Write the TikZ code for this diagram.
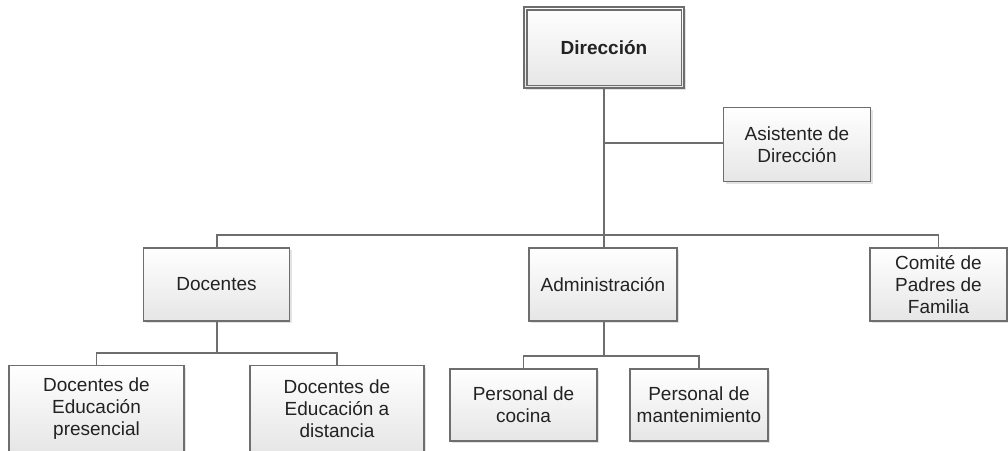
\documentclass[tikz,border=0pt]{standalone}
\usepackage{fontspec}
\setmainfont{Liberation Sans}
\usetikzlibrary{shadows}
\definecolor{edge}{HTML}{6E6E6E}
\definecolor{boxbot}{HTML}{E6E6E6}
\definecolor{txt}{HTML}{222222}
\tikzset{
  orgbox/.style={draw=edge, line width=1.2pt, top color=white, bottom color=boxbot,
    shading angle=0, align=center, inner sep=2pt, text=txt,
    font=\fontsize{19}{22}\selectfont,
    drop shadow={shadow xshift=2pt, shadow yshift=-2pt, fill=black!18, opacity=0.6}},
  link/.style={draw=edge, line width=1.3pt},
}
\begin{document}
\begin{tikzpicture}[x=1pt,y=-1pt]
\useasboundingbox (0,0) rectangle (1008,450);
\clip (0,0) rectangle (1008,450);
% nodes
\node[orgbox, minimum width=160pt, minimum height=81pt, font=\fontsize{19}{22}\selectfont\bfseries] (dir) at (604,47.5) {Dirección};
\draw[edge, line width=1.2pt] ([xshift=3.5pt,yshift=-3.5pt]dir.north west) rectangle ([xshift=-3.5pt,yshift=3.5pt]dir.south east);
\node[orgbox, minimum width=147pt, minimum height=74pt] (asis) at (797,144.5) {Asistente de\\Dirección};
\node[orgbox, minimum width=146pt, minimum height=73pt] (doc) at (216.5,284.5) {Docentes};
\node[orgbox, minimum width=148pt, minimum height=73pt] (adm) at (603,284.5) {Administración};
\node[orgbox, minimum width=137pt, minimum height=73pt] (com) at (938.5,284.5) {Comité de\\Padres de\\Familia};
\node[orgbox, minimum width=175pt, minimum height=86pt, anchor=north] (dp) at (96.5,365) {Docentes de\\Educación\\presencial};
\node[orgbox, minimum width=174pt, minimum height=86pt, anchor=north] (dd) at (337,365) {Docentes de\\Educación a\\distancia};
\node[orgbox, minimum width=147pt, minimum height=72pt] (pc) at (523.5,405) {Personal de\\cocina};
\node[orgbox, minimum width=138pt, minimum height=72pt] (pm) at (699,405) {Personal de\\mantenimiento};
% coordinates
\coordinate (j1) at (604,235);
\coordinate (ja) at (604,143);
\coordinate (j2) at (217,353);
\coordinate (j3) at (604,356);
% connectors
\draw[link] (dir.south) -- (j1);
\draw[link] (ja) -- (asis.west |- ja);
\draw[link] (j1) -| (doc.north -| j2);
\draw[link] (j1) -| (com.north);
\draw[link] (j1) -- (adm.north -| j1);
\draw[link] (doc.south -| j2) -- (j2);
\draw[link] (j2) -| (dp.north);
\draw[link] (j2) -| (dd.north);
\draw[link] (adm.south -| j3) -- (j3);
\draw[link] (j3) -| (pc.north);
\draw[link] (j3) -| (pm.north);
\end{tikzpicture}
\end{document}
